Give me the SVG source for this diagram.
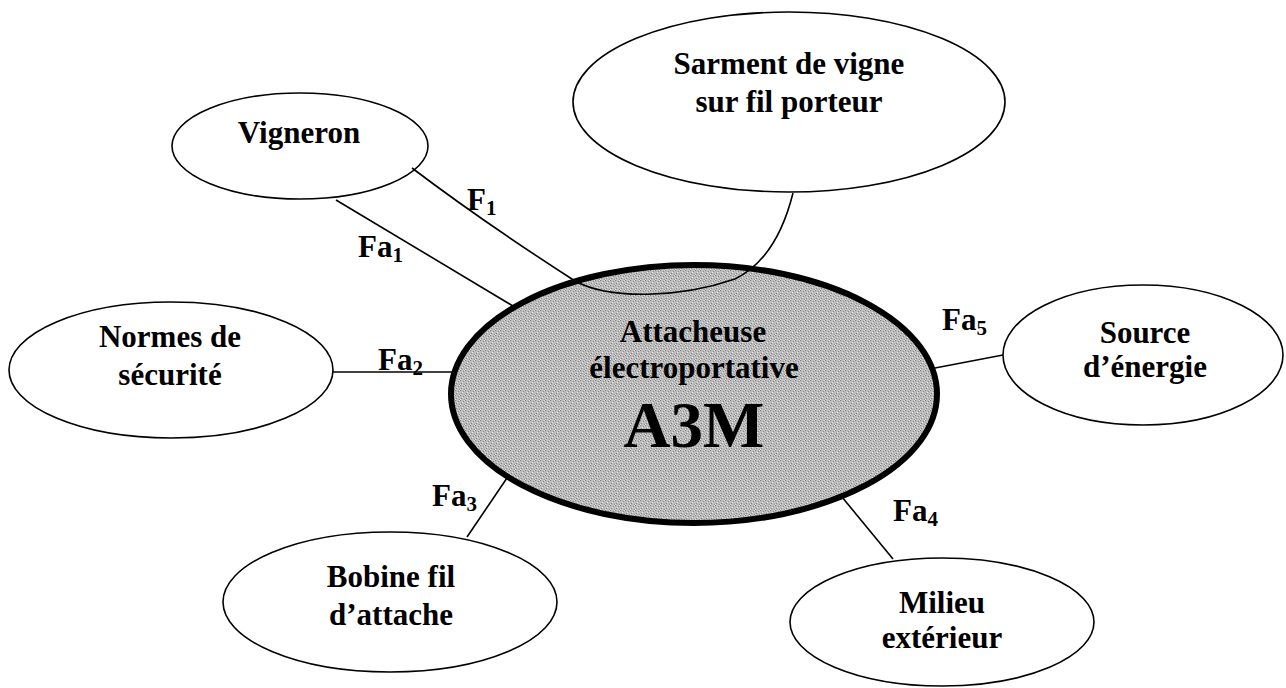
<svg xmlns="http://www.w3.org/2000/svg" width="1286" height="688" viewBox="0 0 1286 688">
<defs>
<pattern id="grain" width="5" height="5" patternUnits="userSpaceOnUse">
<rect width="5" height="5" fill="#bcbcbc"/>
<rect x="0" y="0" width="1" height="1" fill="#7d7d7d"/>
<rect x="3" y="1" width="1" height="1" fill="#8c8c8c"/>
<rect x="1" y="3" width="1" height="1" fill="#858585"/>
<rect x="4" y="4" width="1" height="1" fill="#909090"/>
<rect x="2" y="2" width="1" height="1" fill="#e6e6e6"/>
<rect x="4" y="0" width="1" height="1" fill="#dedede"/>
<rect x="0" y="4" width="1" height="1" fill="#e2e2e2"/>
</pattern>
<style>
.n{fill:#fff;stroke:#000;stroke-width:1.6}
.c{fill:url(#grain);stroke:#000;stroke-width:6}
.t{font-family:"Liberation Serif","Times New Roman",serif;font-weight:bold;font-size:31px;text-anchor:middle;fill:#000}
.big{font-size:65px}
.l{font-family:"Liberation Serif","Times New Roman",serif;font-weight:bold;font-size:31px;fill:#000}
.s{font-size:21px}
.w{fill:none;stroke:#000;stroke-width:1.6}
</style>
</defs>
<rect width="1286" height="688" fill="#fff"/>
<g id="vigneron">
<ellipse class="n" cx="300" cy="146" rx="128" ry="53"/>
<text class="t" x="299" y="143">Vigneron</text>
</g>
<g id="sarment">
<ellipse class="n" cx="789" cy="102" rx="216" ry="90"/>
<text class="t" x="789" y="74">Sarment de vigne</text>
<text class="t" x="789" y="112">sur fil porteur</text>
</g>
<g id="normes">
<ellipse class="n" cx="171" cy="370" rx="162" ry="68"/>
<text class="t" x="170" y="347">Normes de</text>
<text class="t" x="170" y="385">sécurité</text>
</g>
<g id="source">
<ellipse class="n" cx="1143" cy="355" rx="140" ry="70"/>
<text class="t" x="1145" y="343">Source</text>
<text class="t" x="1145" y="377">d’énergie</text>
</g>
<g id="bobine">
<ellipse class="n" cx="390" cy="602" rx="167" ry="70"/>
<text class="t" x="391" y="587">Bobine fil</text>
<text class="t" x="391" y="625">d’attache</text>
</g>
<g id="milieu">
<ellipse class="n" cx="942" cy="622" rx="152" ry="64"/>
<text class="t" x="942" y="613">Milieu</text>
<text class="t" x="942" y="648">extérieur</text>
</g>
<g id="a3m">
<ellipse class="c" cx="694" cy="394" rx="243" ry="129"/>
<text class="t" x="693" y="342">Attacheuse</text>
<text class="t" x="694" y="378">électroportative</text>
<text class="t big" x="694" y="447">A3M</text>
</g>
<g id="connectors">
<path class="w" d="M336 200 L513 306"/>
<path class="w" d="M412 168 C470 212 530 252 575 281 C610 300 680 298 735 279 C770 262 785 225 793 193"/>
<path class="w" d="M333 372 L454 372"/>
<path class="w" d="M507 478 L467 537"/>
<path class="w" d="M842 497 L893 559"/>
<path class="w" d="M935 368 L1003 355"/>
<text class="l" x="467" y="210">F<tspan class="s" dy="5">1</tspan></text>
<text class="l" x="358" y="257">Fa<tspan class="s" dy="5">1</tspan></text>
<text class="l" x="378" y="370">Fa<tspan class="s" dy="5">2</tspan></text>
<text class="l" x="432" y="506">Fa<tspan class="s" dy="5">3</tspan></text>
<text class="l" x="893" y="521">Fa<tspan class="s" dy="5">4</tspan></text>
<text class="l" x="942" y="330">Fa<tspan class="s" dy="5">5</tspan></text>
</g>
</svg>
